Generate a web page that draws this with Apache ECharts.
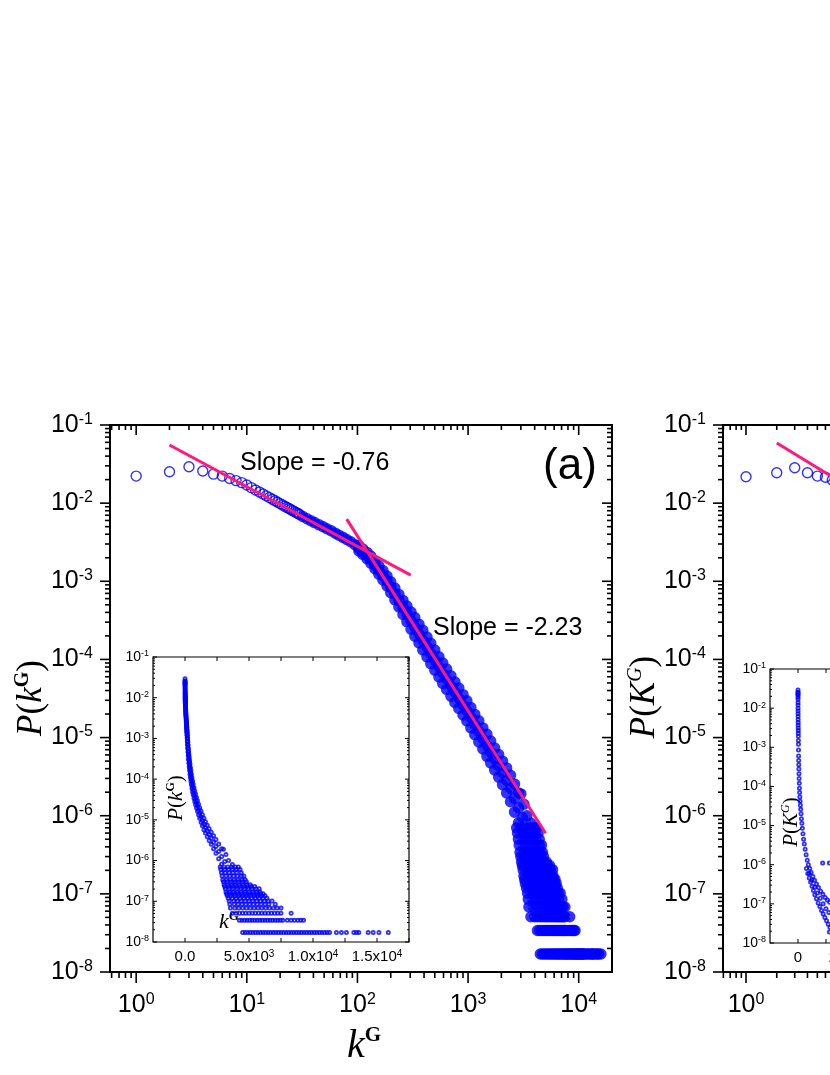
<!DOCTYPE html>
<html><head><meta charset="utf-8">
<script src="https://cdn.jsdelivr.net/npm/echarts@6/dist/echarts.min.js"></script>
<style>html,body{margin:0;padding:0;background:#fff}#c{width:830px;height:1075px}</style>
</head><body><div id="c"></div>
<script>
// ---------- Panel (a): P(k^G) vs k^G ----------
const kSmall = [1,2,3,4,5,6,7,8,9,10,11,12,13,14,15,16,17,18,19,20,21,22,23,24,25,26,27,28,29,30];
const pSmall = [0.0222,0.0252,0.0292,0.0258,0.0235,0.0222,0.0207,0.0194,0.0183,0.0171,
  0.01581,0.01476,0.01386,0.01309,0.01240,0.01178,0.01122,0.01072,0.01028,0.00987,
  0.00949,0.00916,0.00883,0.00855,0.00828,0.00802,0.00778,0.00757,0.00736,0.00716];
const kBand = [32,35,38,41,45,49,53,58,63,68,74,80,87,95,103,112,122,132,144,156,170,185,200,218,237,258,280,305,330,360,
  390,425,460,500,545,590,640,700,760,825,900,975,1060,1150,1250,1360,1480,1600,1740,1890,2050,2230,2420,2630,2860,3100];
const pBand = [6.76e-3,6.32e-3,5.96e-3,5.64e-3,5.28e-3,4.98e-3,4.71e-3,4.42e-3,4.13e-3,3.89e-3,
  3.65e-3,3.43e-3,3.21e-3,2.93e-3,2.65e-3,2.38e-3,2.14e-3,1.90e-3,1.62e-3,1.40e-3,
  1.19e-3,1.01e-3,8.4e-4,6.9e-4,5.65e-4,4.62e-4,3.84e-4,3.14e-4,2.61e-4,2.13e-4,
  1.77e-4,1.45e-4,1.19e-4,9.8e-5,8.0e-5,6.65e-5,5.57e-5,4.57e-5,3.81e-5,3.18e-5,
  2.62e-5,2.20e-5,1.80e-5,1.47e-5,1.20e-5,9.7e-6,7.9e-6,6.5e-6,5.3e-6,4.35e-6,
  3.53e-6,2.83e-6,2.23e-6,1.67e-6,1.26e-6,9.5e-7];
// upper and lower edges of the thick band
const kEdge = [103,112,122,132,144,156,170,185,200,218,237,258,280,305,330,360,390,425,460,500,
  545,590,640,700,760,825,900,975,1060,1150,1250,1360,1480,1600,1740,1890,2050,2230,2420,2630,2860];
const pEdgeHi = [2.87e-3,2.58e-3,2.34e-3,2.11e-3,1.82e-3,1.58e-3,1.37e-3,1.17e-3,9.86e-4,8.18e-4,6.79e-4,5.69e-4,4.83e-4,4.05e-4,3.44e-4,2.81e-4,2.36e-4,1.93e-4,1.61e-4,1.32e-4,
  1.08e-4,8.97e-5,7.52e-5,6.17e-5,5.14e-5,4.30e-5,3.54e-5,2.96e-5,2.42e-5,1.98e-5,1.64e-5,1.33e-5,1.10e-5,9.03e-6,7.33e-6,6.08e-6,4.99e-6,4.09e-6,3.30e-6,2.54e-6,1.95e-6];
const pEdgeLo = [2.44e-3,2.20e-3,1.95e-3,1.71e-3,1.45e-3,1.23e-3,1.04e-3,8.69e-4,7.14e-4,5.79e-4,4.70e-4,3.76e-4,3.05e-4,2.44e-4,1.98e-4,1.62e-4,1.32e-4,1.08e-4,8.85e-5,7.28e-5,
  5.96e-5,4.93e-5,4.13e-5,3.39e-5,2.82e-5,2.36e-5,1.95e-5,1.63e-5,1.33e-5,1.09e-5,8.79e-6,7.13e-6,5.75e-6,4.74e-6,3.85e-6,3.12e-6,2.50e-6,1.96e-6,1.51e-6,1.11e-6,8.11e-7];
const kExtra = [3000,3200,3400,3700];
const pExtra = [1.9e-6,1.4e-6,1.0e-6,8e-7];
// scattered tail: rows of points at (near-)quantised probability levels
const tailLevels = [7.0e-7,6.0e-7,5.0e-7,4.2e-7,3.4e-7,3.0e-7,2.55e-7,2.3e-7,2.04e-7,1.7e-7,1.53e-7,1.36e-7,1.19e-7,1.02e-7,8.5e-8,6.8e-8,5.1e-8,3.4e-8,1.7e-8];
const tailK = [
  [2750,3050,3350,3650,3950,4170],
  [2800,3100,3400,3700,4000,4300],
  [2850,3150,3450,3750,4050,4400],
  [2900,3200,3500,3800,4100,4400,4600],
  [2950,3250,3550,3850,4150,4450,4700],
  [3000,3300,3600,3900,4200,4500,4800],
  [3050,3350,3650,3950,4250,4550,4850,5100],
  [3100,3400,3700,4000,4300,4600,4900,5200,5450],
  [3150,3450,3750,4050,4350,4650,4950,5250,5550,5800],
  [3200,3500,3800,4100,4400,4700,5000,5300,5600,5850],
  [3250,3550,3850,4150,4450,4750,5050,5350,5650,5900,6100],
  [3300,3600,3900,4200,4500,4800,5100,5400,5700,6000,6250],
  [3380,3700,4000,4300,4600,4900,5200,5500,5800,6100,6400],
  [3450,3800,4100,4400,4700,5000,5300,5600,5900,6200,6500,6800],
  [3500,3850,4150,4450,4750,5050,5350,5650,5950,6250,6550,7050],
  [3550,3900,4200,4500,4800,5100,5400,5700,6000,6300,6600,6900,7200,7500],
  [3700,4000,4250,4500,4750,5000,5250,5500,5750,6000,6250,6500,6750,7000,7250,7500,8290],
  [4240,4450,4650,4850,5050,5250,5450,5650,5850,6050,6250,6450,6650,6850,7050,7250,7450,7640,8000,8290,8550,8820,9050,9260],
  [4500,4700,4900,5100,5300,5500,5700,5900,6100,6300,6500,6700,6900,7100,7300,7500,7700,7900,8100,8300,8500,8700,8900,9100,9300,9500,9700,9900,10100,10300,10500,10700,10900,11100,11300,11830,12220,12610,13190,13400,13580,14310,14700,15150,15880]
];
// fitted power laws (pink lines)
const fitLowK = [2, 303],  fitLowP = [0.0555, 1.2e-3];   // slope -0.76
const fitHighK = [80, 5020], fitHighP = [6.25e-3, 5.97e-7]; // slope -2.23

// ---------- Panel (b) (cut off at right edge) ----------
const kB = [1,2,3,4,5,6,7,8,9,10];
const pB = [0.0218,0.0245,0.0284,0.0245,0.0222,0.0214,0.0198,0.0188,0.0178,0.0168];
const fitBK = [2, 250], fitBP = [0.0589, 1.24e-3];
const kBIn = [1,2,3,4,6,8,10,13,16,20,25,30,37,45,54,64,76,90,105,122,140,160,185,210,240,275,310,350,400,450,
  510,580,660,750,850,960,1080,1220,1380,1560,1760,2000,2250,2550,2900,3300,3700,4200,4700,5300,5900,6600,7300,8100,8900,9700,10500,11300];
const pBIn = [0.022,0.025,0.029,0.025,0.022,0.019,0.0168,0.0140,0.0120,0.0100,0.0085,0.0072,0.0061,0.0051,0.0043,0.0037,0.0031,0.0027,0.0023,0.0019,
  0.0015,0.0012,8.5e-4,6.0e-4,4.6e-4,3.6e-4,2.8e-4,2.1e-4,1.6e-4,1.2e-4,9e-5,7e-5,5.4e-5,4.2e-5,3.3e-5,2.6e-5,2.0e-5,1.5e-5,1.15e-5,8.5e-6,
  6.2e-6,4.5e-6,3.4e-6,2.5e-6,1.8e-6,1.3e-6,1.0e-6,8e-7,6.3e-7,5e-7,4e-7,3.2e-7,2.6e-7,2.1e-7,1.75e-7,1.45e-7,1.25e-7,1.1e-7];
const kBInMid = [4000,5000,6000,7000,8000,9000,10000,11000];
const pBInMid = [6e-7,4e-7,2.7e-7,1.9e-7,1.4e-7,1.0e-7,7.5e-8,6e-8];
const kBInLow = [3000,3500,4000,4500,5000,5500,6000,6600,7200,7800,8400,9000,9600,10200,10800,11400];
const pBInLow = [8e-7,6e-7,4.6e-7,3.6e-7,2.8e-7,2.2e-7,1.7e-7,1.35e-7,1.05e-7,8.5e-8,6.8e-8,5.5e-8,4.5e-8,3.7e-8,3.0e-8,2.5e-8];
const kBIso = [8800,11200,11200];
const pBIso = [1.1e-6,1.1e-6,1.9e-8];

// ---------- build ----------
const SANS = 'Liberation Sans, Arial, sans-serif';
const SERIF = 'Liberation Serif, Times New Roman, serif';
const BLUE = '#0000ff', PINK = '#ff1a7a';
const zip = (ks, ps) => ks.map((k, i) => [k, ps[i]]);

const dataSmall = zip(kSmall, pSmall);
const dataBand = [].concat(zip(kBand,pBand), zip(kEdge,pEdgeHi), zip(kEdge,pEdgeLo), zip(kExtra,pExtra));
const dataTail = [];
tailLevels.forEach((p, i) => tailK[i].forEach(k => dataTail.push([k, p])));
const dataAll = [].concat(dataSmall, dataBand, dataTail);
const dataBIn = [].concat(zip(kBIn,pBIn), zip(kBInMid,pBInMid), zip(kBInLow,pBInLow), zip(kBIso,pBIso));

function isPow10(v){ const l = Math.log10(v); return Math.abs(l - Math.round(l)) < 1e-6; }
function powLabel(v){ return isPow10(v) ? '{b|10}{s|' + Math.round(Math.log10(v)) + '}' : ''; }
const richMain = {
  b: {fontFamily: SANS, fontSize: 25, color: '#000', lineHeight: 27},
  s: {fontFamily: SANS, fontSize: 16, color: '#000', verticalAlign: 'top', lineHeight: 16}
};
const richIn = {
  b: {fontFamily: SANS, fontSize: 14, color: '#000', lineHeight: 15},
  s: {fontFamily: SANS, fontSize: 9, color: '#000', verticalAlign: 'top', lineHeight: 9}
};
const richInX = {
  b: {fontFamily: SANS, fontSize: 15, color: '#000', lineHeight: 16},
  s: {fontFamily: SANS, fontSize: 10, color: '#000', verticalAlign: 'top', lineHeight: 10}
};
function sciLabel(v, step, zeroTxt){
  if (v === 0) return '{b|' + zeroTxt + '}';
  if (v < 0 || v % step !== 0) return '';
  const e = Math.floor(Math.log10(v));
  return '{b|' + (v / Math.pow(10, e)).toFixed(1) + 'x10}{s|' + e + '}';
}

function logTickVals(lo, hi){
  const maj = [], min = [];
  for (let d = Math.floor(Math.log10(lo)) - 1; d <= Math.ceil(Math.log10(hi)); d++){
    const b = Math.pow(10, d);
    if (b >= lo * 0.999999 && b <= hi * 1.000001) maj.push(b);
    for (let m = 2; m <= 9; m++){ const v = m * b; if (v > lo * 1.000001 && v < hi * 0.999999) min.push(v); }
  }
  return {maj, min};
}
function tickItems(xs, ys, xRefY, yRefX, s){
  const out = [];
  xs.maj.forEach(v => { out.push([v, xRefY, 0, s.bMaj, s.w]); out.push([v, xRefY, 1, s.tMaj, s.w]); });
  xs.min.forEach(v => { out.push([v, xRefY, 0, s.bMin, s.w]); out.push([v, xRefY, 1, s.tMin, s.w]); });
  ys.maj.forEach(v => { out.push([yRefX, v, 2, s.lMaj, s.w]); out.push([yRefX, v, 3, s.rMaj, s.w]); });
  ys.min.forEach(v => { out.push([yRefX, v, 2, s.lMin, s.w]); out.push([yRefX, v, 3, s.rMin, s.w]); });
  return out;
}
function renderTick(params, api){
  const cs = params.coordSys;
  const p = api.coord([api.value(0), api.value(1)]);
  const e = api.value(2), d = api.value(3), w = api.value(4);
  let sh;
  if (e === 0) sh = {x1: p[0], y1: cs.y + cs.height, x2: p[0], y2: cs.y + cs.height + d};
  else if (e === 1) sh = {x1: p[0], y1: cs.y, x2: p[0], y2: cs.y + d};
  else if (e === 2) sh = {x1: cs.x, y1: p[1], x2: cs.x + d, y2: p[1]};
  else sh = {x1: cs.x + cs.width, y1: p[1], x2: cs.x + cs.width + d, y2: p[1]};
  return {type: 'line', shape: sh, style: {stroke: '#000', lineWidth: w}};
}
const mainSpec = {bMaj: 11, bMin: 6, tMaj: 10, tMin: 5, lMaj: -10, lMin: -5, rMaj: -10, rMin: -5, w: 1.6};
const inSpec = {bMaj: -4, bMin: -2, tMaj: 4, tMin: 2, lMaj: 4, lMin: 2, rMaj: -4, rMin: -2, w: 1};

const AXA = [0.58, 20000], AXB = [0.595, 20000], AY = [1e-8, 1e-1];
const ticksA = tickItems(logTickVals(AXA[0], AXA[1]), logTickVals(AY[0], AY[1]), 1e-4, 1, mainSpec);
const ticksB = tickItems(logTickVals(AXB[0], AXB[1]), logTickVals(AY[0], AY[1]), 1e-4, 1, mainSpec);
const linA = {maj: [], min: []}; for (let v = 0; v <= 17500; v += 2500) linA.maj.push(v);
const linB = {maj: [], min: []}; for (let v = 0; v <= 80000; v += 10000) linB.maj.push(v);
const ticksAin = tickItems(linA, logTickVals(AY[0], AY[1]), 1e-4, 0, inSpec);
const ticksBin = tickItems(linB, logTickVals(AY[0], AY[1]), 1e-4, 0, inSpec);

function logAxis(grid, lo, hi, rich, margin){
  return {type: 'log', logBase: 10, gridIndex: grid, min: lo, max: hi,
    axisLine: {show: false}, axisTick: {show: false}, splitLine: {show: false}, minorTick: {show: false},
    axisLabel: {formatter: powLabel, rich: rich, margin: margin}};
}
function linAxis(grid, lo, hi, iv, fmt, margin){
  return {type: 'value', gridIndex: grid, min: lo, max: hi, interval: iv,
    axisLine: {show: false}, axisTick: {show: false}, splitLine: {show: false},
    axisLabel: {formatter: fmt, rich: richInX, margin: margin}};
}
const scatterStyle = (w) => ({color: 'rgba(0,0,0,0)', borderColor: BLUE, borderWidth: w});
const gridBase = {show: true, borderColor: '#000', backgroundColor: 'transparent', containLabel: false, outerBoundsMode: 'none'};

const option = {
  animation: false,
  backgroundColor: '#fff',
  grid: [
    Object.assign({left: 110, top: 425, width: 502, height: 547, borderWidth: 2}, gridBase),
    Object.assign({left: 153, top: 657, width: 256, height: 285, borderWidth: 1.2}, gridBase),
    Object.assign({left: 723, top: 425, width: 462, height: 547, borderWidth: 2}, gridBase),
    Object.assign({left: 770, top: 669, width: 252, height: 274, borderWidth: 1.2}, gridBase)
  ],
  xAxis: [
    logAxis(0, AXA[0], AXA[1], richMain, 20),
    linAxis(1, -2500, 17500, 2500, v => sciLabel(v, 5000, '0.0'), 7),
    logAxis(2, AXB[0], AXB[1], richMain, 20),
    linAxis(3, -10000, 80000, 10000, v => (v === 0 ? '{b|0}' : sciLabel(v, 20000, '0')), 7)
  ],
  yAxis: [
    logAxis(0, AY[0], AY[1], richMain, 17),
    logAxis(1, AY[0], AY[1], richIn, 4),
    logAxis(2, AY[0], AY[1], richMain, 17),
    logAxis(3, AY[0], AY[1], richIn, 4)
  ],
  series: [
    {type: 'scatter', xAxisIndex: 0, yAxisIndex: 0, data: dataSmall, symbol: 'circle', symbolSize: 10, itemStyle: scatterStyle(1.4), z: 2},
    {type: 'scatter', xAxisIndex: 0, yAxisIndex: 0, data: dataBand, symbol: 'circle', symbolSize: 6, itemStyle: scatterStyle(5.5), z: 2},
    {type: 'scatter', xAxisIndex: 0, yAxisIndex: 0, data: dataTail, symbol: 'circle', symbolSize: 6.5, itemStyle: scatterStyle(5), z: 2},
    {type: 'line', xAxisIndex: 0, yAxisIndex: 0, data: zip(fitLowK, fitLowP), showSymbol: false, lineStyle: {color: PINK, width: 3}, z: 3},
    {type: 'line', xAxisIndex: 0, yAxisIndex: 0, data: zip(fitHighK, fitHighP), showSymbol: false, lineStyle: {color: PINK, width: 3}, z: 3},
    {type: 'scatter', xAxisIndex: 1, yAxisIndex: 1, data: dataAll, symbol: 'circle', symbolSize: 3.2, itemStyle: scatterStyle(1.8), z: 4},
    {type: 'scatter', xAxisIndex: 2, yAxisIndex: 2, data: zip(kB, pB), symbol: 'circle', symbolSize: 10, itemStyle: scatterStyle(1.4), z: 2},
    {type: 'line', xAxisIndex: 2, yAxisIndex: 2, data: zip(fitBK, fitBP), showSymbol: false, lineStyle: {color: PINK, width: 3}, z: 3},
    {type: 'scatter', xAxisIndex: 3, yAxisIndex: 3, data: dataBIn, symbol: 'circle', symbolSize: 3.2, itemStyle: scatterStyle(1.8), z: 4},
    {type: 'custom', xAxisIndex: 0, yAxisIndex: 0, data: ticksA, renderItem: renderTick, clip: false, silent: true, z: 5},
    {type: 'custom', xAxisIndex: 1, yAxisIndex: 1, data: ticksAin, renderItem: renderTick, clip: false, silent: true, z: 5},
    {type: 'custom', xAxisIndex: 2, yAxisIndex: 2, data: ticksB, renderItem: renderTick, clip: false, silent: true, z: 5},
    {type: 'custom', xAxisIndex: 3, yAxisIndex: 3, data: ticksBin, renderItem: renderTick, clip: false, silent: true, z: 5}
  ],
  graphic: [
    {type: 'text', x: 32, y: 698, rotation: Math.PI / 2, style: {
      text: '{i|P}{n|(}{i|k}{g|G}{n|)}', align: 'center', verticalAlign: 'middle',
      rich: {i: {fontFamily: SERIF, fontStyle: 'italic', fontSize: 35, lineHeight: 38, fill: '#000'},
             n: {fontFamily: SERIF, fontSize: 35, lineHeight: 38, fill: '#000'},
             g: {fontFamily: SERIF, fontWeight: 'bold', fontSize: 20, verticalAlign: 'top', lineHeight: 20, fill: '#000'}}}},
    {type: 'text', x: 364, y: 1046, style: {
      text: '{i|k}{g|G}', align: 'center', verticalAlign: 'middle',
      rich: {i: {fontFamily: SERIF, fontStyle: 'italic', fontSize: 40, lineHeight: 42, fill: '#000'},
             g: {fontFamily: SERIF, fontWeight: 'bold', fontSize: 21, verticalAlign: 'top', lineHeight: 21, fill: '#000'}}}},
    {type: 'text', x: 240, y: 463, style: {text: 'Slope = -0.76', font: '25px ' + SANS, fill: '#000', align: 'left', verticalAlign: 'middle'}},
    {type: 'text', x: 433, y: 628, style: {text: 'Slope = -2.23', font: '25px ' + SANS, fill: '#000', align: 'left', verticalAlign: 'middle'}},
    {type: 'text', x: 570, y: 467, style: {text: '(a)', font: '44px ' + SANS, fill: '#000', align: 'center', verticalAlign: 'middle'}},
    {type: 'text', x: 176, y: 798, rotation: Math.PI / 2, style: {
      text: '{i|P}{n|(}{i|k}{g|G}{n|)}', align: 'center', verticalAlign: 'middle',
      rich: {i: {fontFamily: SERIF, fontStyle: 'italic', fontSize: 21, lineHeight: 23, fill: '#000'},
             n: {fontFamily: SERIF, fontSize: 21, lineHeight: 23, fill: '#000'},
             g: {fontFamily: SERIF, fontWeight: 'bold', fontSize: 12, verticalAlign: 'top', lineHeight: 12, fill: '#000'}}}},
    {type: 'text', x: 229, y: 922, style: {
      text: '{i|k}{g|G}', align: 'center', verticalAlign: 'middle',
      rich: {i: {fontFamily: SERIF, fontStyle: 'italic', fontSize: 22, lineHeight: 24, fill: '#000'},
             g: {fontFamily: SERIF, fontWeight: 'bold', fontSize: 13, verticalAlign: 'top', lineHeight: 13, fill: '#000'}}}},
    {type: 'text', x: 645, y: 697, rotation: Math.PI / 2, style: {
      text: '{i|P}{n|(}{i|K}{g|G}{n|)}', align: 'center', verticalAlign: 'middle',
      rich: {i: {fontFamily: SERIF, fontStyle: 'italic', fontSize: 35, lineHeight: 38, fill: '#000'},
             n: {fontFamily: SERIF, fontSize: 35, lineHeight: 38, fill: '#000'},
             g: {fontFamily: SERIF, fontStyle: 'italic', fontSize: 20, verticalAlign: 'top', lineHeight: 20, fill: '#000'}}}},
    {type: 'text', x: 791, y: 822, rotation: Math.PI / 2, style: {
      text: '{i|P}{n|(}{i|K}{g|G}{n|)}', align: 'center', verticalAlign: 'middle',
      rich: {i: {fontFamily: SERIF, fontStyle: 'italic', fontSize: 21, lineHeight: 23, fill: '#000'},
             n: {fontFamily: SERIF, fontSize: 21, lineHeight: 23, fill: '#000'},
             g: {fontFamily: SERIF, fontStyle: 'italic', fontSize: 12, verticalAlign: 'top', lineHeight: 12, fill: '#000'}}}}
  ]
};
const chart = echarts.init(document.getElementById('c'), null, {renderer: 'canvas'});
chart.setOption(option);
</script></body></html>
